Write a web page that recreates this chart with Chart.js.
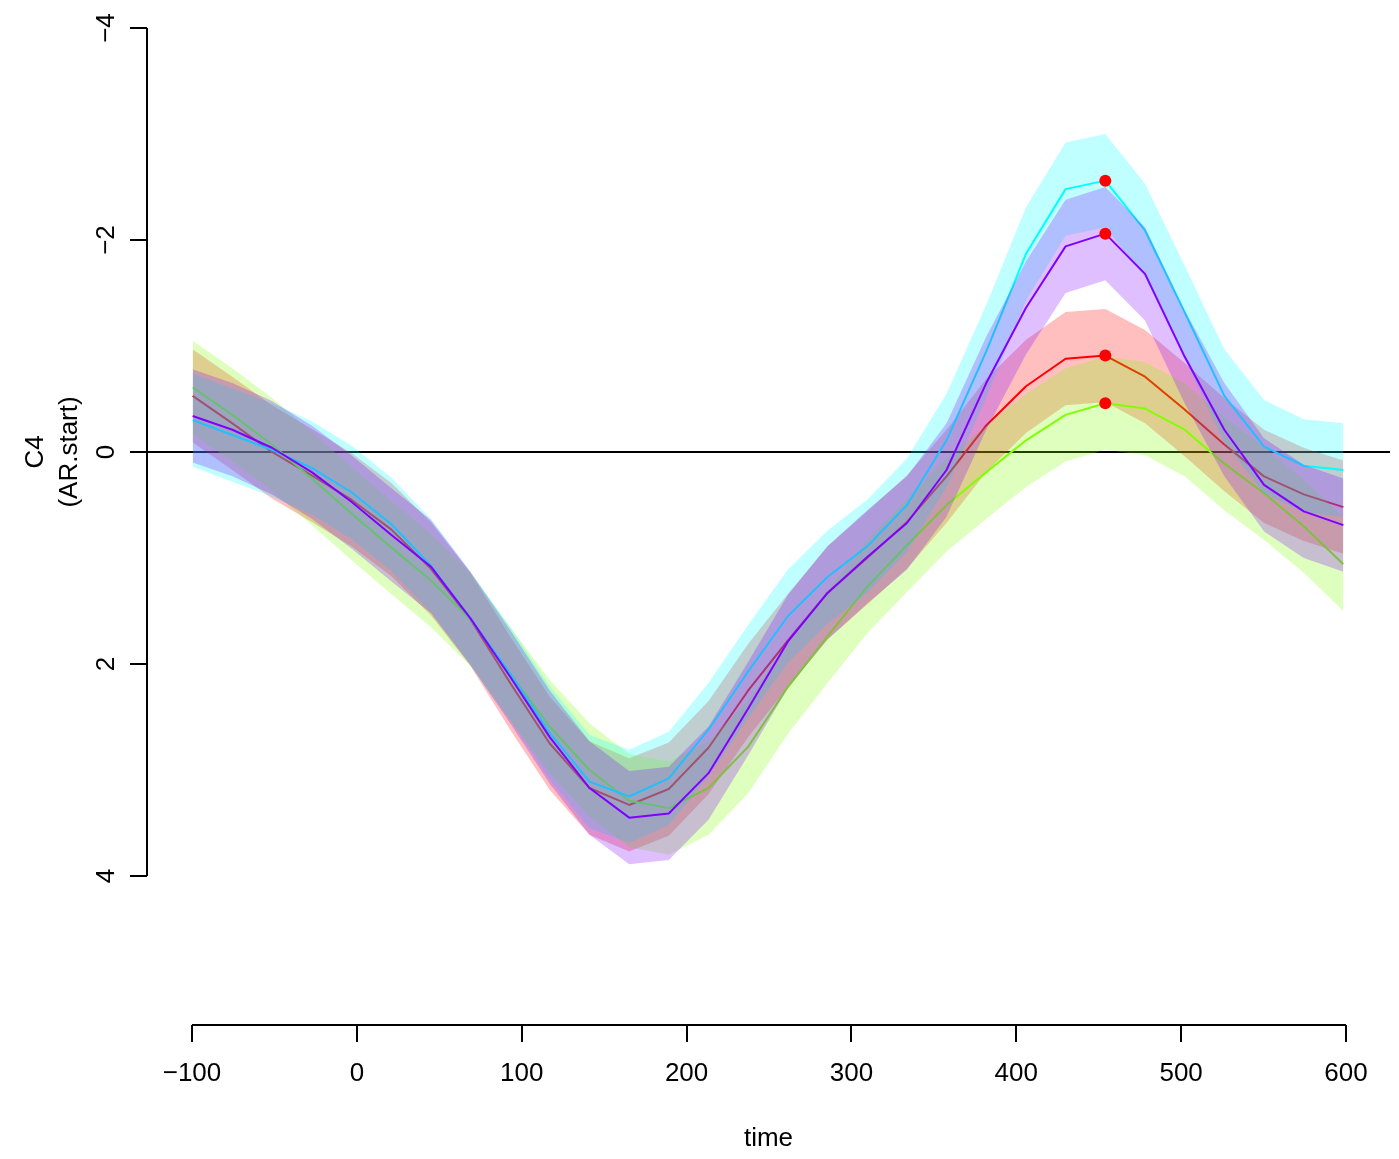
<!DOCTYPE html>
<html>
<head>
<meta charset="utf-8">
<script src="https://cdn.jsdelivr.net/npm/chart.js@4.4.0/dist/chart.umd.min.js"></script>
<style>
  html, body { margin: 0; padding: 0; background: #ffffff; }
  .chart-container { width: 1399px; height: 1159px; }
</style>
</head>
<body>
<div class="chart-container"><canvas id="chart"></canvas></div>
<script>
(() => {
  'use strict';

  // sample times (ms)
  const times = [-99.6, -75.5, -51.5, -27.4, -3.3, 20.8, 44.8, 68.9, 93.0, 117.0,
    141.1, 165.2, 189.2, 213.3, 237.4, 261.4, 285.5, 309.6, 333.7, 357.7,
    381.8, 405.9, 429.9, 454.0, 478.1, 502.1, 526.2, 550.3, 574.4, 598.4];

  // condition means
  const redMean = [-0.53, -0.27, 0.00, 0.22, 0.45, 0.73, 1.10, 1.58, 2.18, 2.75,
    3.17, 3.33, 3.18, 2.79, 2.25, 1.78, 1.33, 1.00, 0.66, 0.23,
    -0.25, -0.62, -0.88, -0.91, -0.71, -0.40, -0.07, 0.23, 0.40, 0.52];
  const greenMean = [-0.61, -0.35, -0.07, 0.25, 0.58, 0.90, 1.21, 1.58, 2.09, 2.59,
    3.00, 3.29, 3.36, 3.17, 2.78, 2.22, 1.74, 1.27, 0.88, 0.50,
    0.19, -0.11, -0.35, -0.46, -0.41, -0.21, 0.11, 0.39, 0.70, 1.06];
  const cyanMean = [-0.30, -0.16, -0.02, 0.15, 0.38, 0.68, 1.07, 1.57, 2.09, 2.65,
    3.11, 3.25, 3.08, 2.62, 2.07, 1.55, 1.18, 0.89, 0.50, -0.11,
    -0.95, -1.87, -2.48, -2.56, -2.09, -1.32, -0.53, -0.05, 0.13, 0.17];
  const purpleMean = [-0.34, -0.21, -0.04, 0.19, 0.47, 0.78, 1.08, 1.57, 2.12, 2.69,
    3.17, 3.45, 3.41, 3.03, 2.42, 1.79, 1.33, 0.99, 0.67, 0.17,
    -0.65, -1.36, -1.94, -2.06, -1.68, -0.90, -0.21, 0.31, 0.56, 0.69];

  // half width of each shaded band
  const bandHalfWidths = [0.44, 0.44, 0.44, 0.44];

  const seriesMeans = [redMean, greenMean, cyanMean, purpleMean];
  const seriesRgb = [[255, 0, 0], [128, 255, 0], [0, 255, 255], [128, 0, 255]];
  const peakIndex = 23;

  const xTicks = [-100, 0, 100, 200, 300, 400, 500, 600];
  const yTicks = [-4, -2, 0, 2, 4];

  const FONT = "'Liberation Sans', Arial, Helvetica, sans-serif";
  const minus = (v) => String(v).replace('-', '\u2212');

  /**
   * Builds the band, line and peak datasets in drawing order
   */
  const buildDatasets = () => {
    const sequence = [];
    seriesMeans.forEach((mean, s) => {
      const [r, g, b] = seriesRgb[s];
      const hw = bandHalfWidths[s];
      const lowerIndex = sequence.length;
      sequence.push({
        data: mean.map((v, i) => ({ x: times[i], y: v - hw })),
        borderWidth: 0,
        borderColor: 'rgba(0,0,0,0)',
        pointRadius: 0,
        fill: false
      });
      sequence.push({
        data: mean.map((v, i) => ({ x: times[i], y: v + hw })),
        borderWidth: 0,
        borderColor: 'rgba(0,0,0,0)',
        backgroundColor: `rgba(${r},${g},${b},0.25)`,
        pointRadius: 0,
        fill: { target: lowerIndex }
      });
      sequence.push({
        data: mean.map((v, i) => ({ x: times[i], y: v })),
        borderWidth: 2,
        borderColor: `rgb(${r},${g},${b})`,
        borderJoinStyle: 'round',
        pointRadius: 0,
        fill: false
      });
    });
    sequence.push({
      data: seriesMeans.map((mean) => ({ x: times[peakIndex], y: mean[peakIndex] })),
      showLine: false,
      pointRadius: 6,
      pointBackgroundColor: '#FF0000',
      pointBorderWidth: 0,
      fill: false
    });
    // first in sequence is painted first
    return sequence.map((ds, k) => Object.assign(ds, { order: sequence.length - k, tension: 0 }));
  };

  const rAxesPlugin = {
    id: 'rAxes',
    beforeDatasetsDraw(chart) {
      const { ctx, chartArea, scales: { y } } = chart;
      const py = Math.round(y.getPixelForValue(0));
      ctx.save();
      ctx.strokeStyle = '#000';
      ctx.lineWidth = 2;
      ctx.beginPath();
      ctx.moveTo(chartArea.left, py);
      ctx.lineTo(chartArea.right, py);
      ctx.stroke();
      ctx.restore();
    },
    afterDraw(chart) {
      const { ctx, chartArea, scales: { x, y } } = chart;
      ctx.save();
      ctx.strokeStyle = '#000';
      ctx.lineWidth = 2;
      ctx.beginPath();
      ctx.moveTo(x.getPixelForValue(xTicks[0]), chartArea.bottom);
      ctx.lineTo(x.getPixelForValue(xTicks[xTicks.length - 1]), chartArea.bottom);
      ctx.moveTo(chartArea.left, y.getPixelForValue(yTicks[0]));
      ctx.lineTo(chartArea.left, y.getPixelForValue(yTicks[yTicks.length - 1]));
      ctx.stroke();

      // y axis title, centred on the zero line like the original
      const cy = y.getPixelForValue(0);
      ctx.fillStyle = '#000';
      ctx.font = `26px ${FONT}`;
      ctx.textAlign = 'center';
      ctx.textBaseline = 'middle';
      ctx.translate(36, cy);
      ctx.rotate(-Math.PI / 2);
      ctx.fillText('C4', 0, 0);
      ctx.fillText('(AR.start)', 0, 34);
      ctx.restore();
    }
  };

  Chart.defaults.font.family = FONT;
  Chart.defaults.color = '#000';

  new Chart(document.getElementById('chart'), {
    type: 'line',
    data: { datasets: buildDatasets() },
    options: {
      responsive: true,
      maintainAspectRatio: false,
      devicePixelRatio: 1,
      animation: false,
      events: [],
      layout: { padding: { left: 0, right: 9, top: 28, bottom: 0 } },
      plugins: {
        legend: { display: false },
        tooltip: { enabled: false }
      },
      scales: {
        x: {
          type: 'linear',
          position: 'bottom',
          min: -127.3,
          max: 626.7,
          afterBuildTicks: (scale) => { scale.ticks = xTicks.map((v) => ({ value: v })); },
          afterFit: (scale) => { scale.height = 134; },
          border: { display: false },
          grid: { drawOnChartArea: false, drawTicks: true, tickLength: 17, color: '#000', lineWidth: 2 },
          ticks: {
            font: { size: 26 },
            padding: 16,
            maxRotation: 0,
            callback: (v) => minus(v)
          },
          title: {
            display: true,
            text: 'time',
            font: { size: 26, lineHeight: 1.2 },
            padding: { top: 0, bottom: 5 }
          }
        },
        y: {
          type: 'linear',
          reverse: true,
          min: -4,
          max: 5.406,
          afterBuildTicks: (scale) => { scale.ticks = yTicks.map((v) => ({ value: v })); },
          afterFit: (scale) => { scale.width = 147; },
          border: { display: false },
          grid: { drawOnChartArea: false, drawTicks: true, tickLength: 17, color: '#000', lineWidth: 2 },
          ticks: {
            font: { size: 26 },
            padding: 8,
            minRotation: 90,
            maxRotation: 90,
            crossAlign: 'center',
            callback: (v) => minus(v)
          }
        }
      }
    },
    plugins: [rAxesPlugin]
  });
})();
</script>
</body>
</html>
